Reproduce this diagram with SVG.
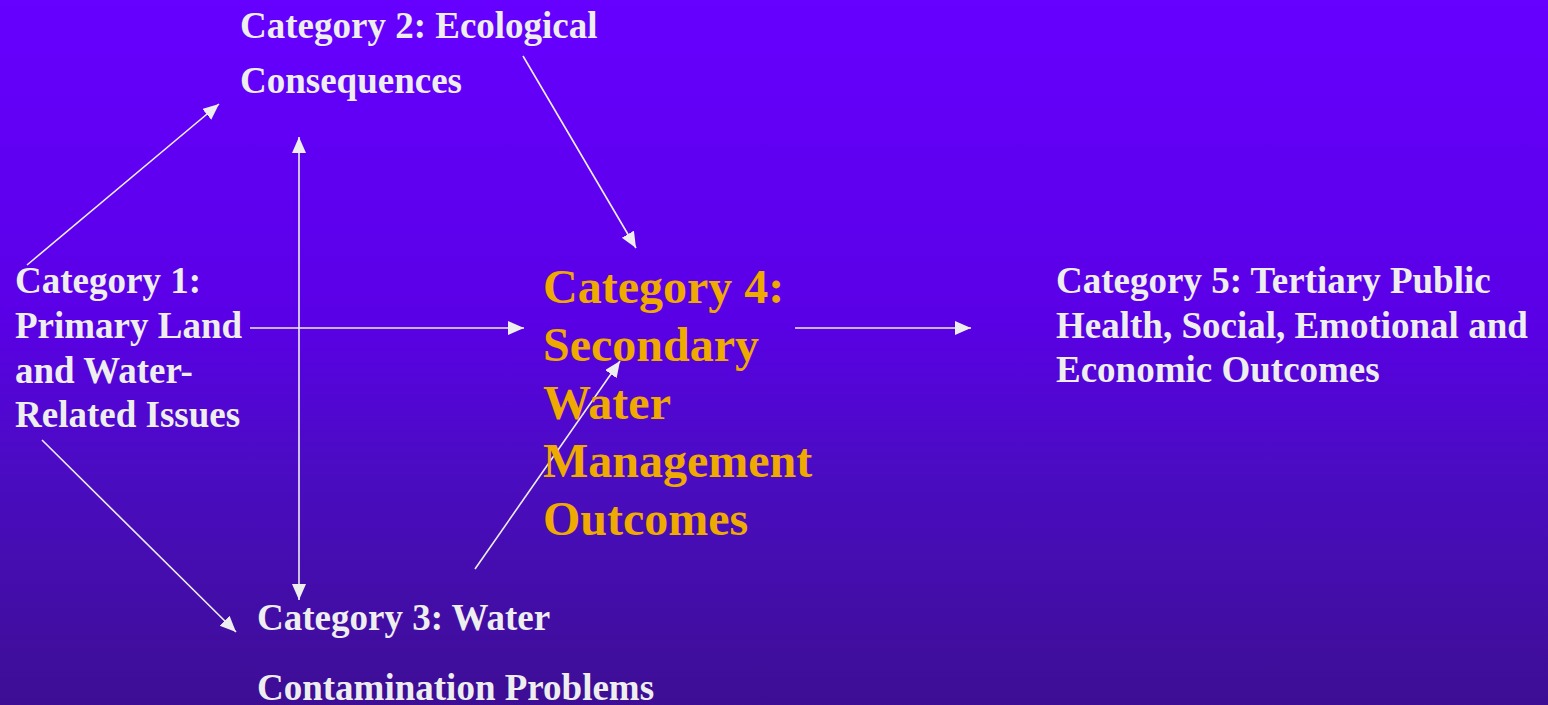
<svg xmlns="http://www.w3.org/2000/svg" width="1548" height="705" viewBox="0 0 1548 705">
<defs>
<linearGradient id="bg" x1="0" y1="0" x2="0" y2="1">
<stop offset="0" stop-color="#6600ff"/>
<stop offset="0.45" stop-color="#5a00e6"/>
<stop offset="0.68" stop-color="#4a0cc0"/>
<stop offset="1" stop-color="#3d0e94"/>
</linearGradient>
<marker id="ah" markerUnits="userSpaceOnUse" markerWidth="18" markerHeight="16" refX="16" refY="7" orient="auto">
<path d="M0,0 L16,7 L0,14 Z" fill="#eeeeee"/>
</marker>
<marker id="ahs" markerUnits="userSpaceOnUse" markerWidth="18" markerHeight="16" refX="16" refY="7" orient="auto-start-reverse">
<path d="M0,0 L16,7 L0,14 Z" fill="#eeeeee"/>
</marker>
</defs>
<style>
text{font-family:"Liberation Serif","Times New Roman",serif;font-weight:bold}
.w{fill:#eeeeee;font-size:37px}
.o{fill:#eeaa00;font-size:48px}
.c line{stroke:#eeeeee;stroke-width:1.6;fill:none}
</style>
<rect x="0" y="0" width="1548" height="705" fill="url(#bg)"/>
<g class="c" id="connectors">
<line x1="27" y1="265" x2="219" y2="104" marker-end="url(#ah)"/>
<line x1="299" y1="137" x2="299" y2="600" marker-start="url(#ahs)" marker-end="url(#ah)"/>
<line x1="523" y1="56" x2="636" y2="248" marker-end="url(#ah)"/>
<line x1="250" y1="328" x2="524" y2="328" marker-end="url(#ah)"/>
<line x1="795" y1="328" x2="971" y2="328" marker-end="url(#ah)"/>
<line x1="42" y1="440" x2="236" y2="632" marker-end="url(#ah)"/>
<line x1="475" y1="569" x2="620" y2="361" marker-end="url(#ah)"/>
</g>
<g id="cat1"><text class="w"><tspan x="15" y="293">Category 1:</tspan><tspan x="15" y="338">Primary Land</tspan><tspan x="15" y="383">and Water-</tspan><tspan x="15" y="427">Related Issues</tspan></text></g>
<g id="cat2"><text class="w"><tspan x="240" y="38">Category 2: Ecological</tspan><tspan x="240" y="93">Consequences</tspan></text></g>
<g id="cat3"><text class="w"><tspan x="257" y="630">Category 3: Water</tspan><tspan x="257" y="700">Contamination Problems</tspan></text></g>
<g id="cat4"><text class="o"><tspan x="543" y="303">Category 4:</tspan><tspan x="543" y="361">Secondary</tspan><tspan x="543" y="419">Water</tspan><tspan x="543" y="477">Management</tspan><tspan x="543" y="535">Outcomes</tspan></text></g>
<g id="cat5"><text class="w"><tspan x="1056" y="293">Category 5: Tertiary Public</tspan><tspan x="1056" y="338">Health, Social, Emotional and</tspan><tspan x="1056" y="382">Economic Outcomes</tspan></text></g>
</svg>
